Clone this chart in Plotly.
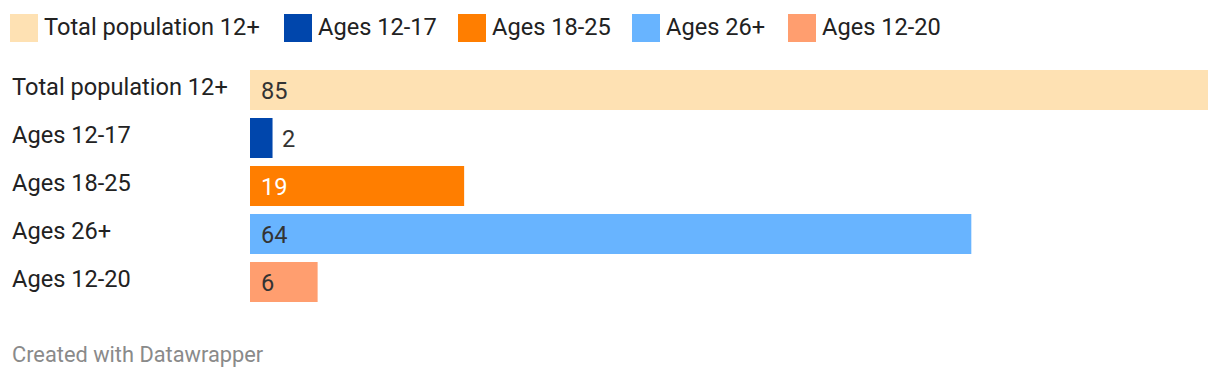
import plotly.graph_objects as go

categories = ["Total population 12+", "Ages 12-17", "Ages 18-25", "Ages 26+", "Ages 12-20"]
values = [85, 2, 19, 64, 6]
colors = ["#fee1b3", "#0046ac", "#ff7e00", "#68b4ff", "#ff9e6f"]
value_text_colors = ["#333333", "#333333", "#ffffff", "#333333", "#333333"]

# page body has an 8px default margin; target coordinates below are window pixels
OFF = 8
W, H = 1220 - OFF, 378 - OFF
ML, MR, MT, MB = 250 - OFF, 12, 66 - OFF, 72
PW, PH = W - ML - MR, H - MT - MB

def px_x(px):
    return (px - OFF - ML) / PW

def px_y(py):
    return (H - MB - (py - OFF)) / PH

FONT = "Roboto"
FS = 23.6

fig = go.Figure()
fig.add_trace(go.Bar(
    x=values, y=categories, orientation="h",
    marker=dict(color=colors, line=dict(width=0)),
    showlegend=False, hoverinfo="skip",
))

annotations = []
for c in categories:
    annotations.append(dict(
        x=px_x(10), xref="paper", y=c, yref="y", text=c, showarrow=False,
        xanchor="left", yanchor="middle", yshift=3,
        font=dict(family=FONT, size=FS, color="#222222"),
    ))

for c, v, tc in zip(categories, values, value_text_colors):
    bar_px = v / 85 * PW
    if bar_px > 40:
        annotations.append(dict(
            x=0, xref="x", y=c, yref="y", text=str(v), showarrow=False,
            xanchor="left", yanchor="middle", xshift=9, yshift=-1,
            font=dict(family=FONT, size=FS, color=tc),
        ))
    else:
        annotations.append(dict(
            x=v, xref="x", y=c, yref="y", text=str(v), showarrow=False,
            xanchor="left", yanchor="middle", xshift=7, yshift=-1,
            font=dict(family=FONT, size=FS, color="#333333"),
        ))

legend_sq_x = [10, 284, 458, 632, 788]
shapes = []
for c, col, sx in zip(categories, colors, legend_sq_x):
    shapes.append(dict(
        type="rect", xref="paper", yref="paper",
        x0=px_x(sx), x1=px_x(sx + 28), y0=px_y(42), y1=px_y(14),
        fillcolor=col, line=dict(width=0),
    ))
    annotations.append(dict(
        x=px_x(sx + 32), xref="paper", y=px_y(27), yref="paper", text=c,
        showarrow=False, xanchor="left", yanchor="middle",
        font=dict(family=FONT, size=FS, color="#222222"),
    ))

annotations.append(dict(
    x=px_x(10), xref="paper", y=px_y(354), yref="paper",
    text="Created with Datawrapper", showarrow=False,
    xanchor="left", yanchor="middle",
    font=dict(family=FONT, size=21.8, color="#8a8a8a"),
))

fig.update_layout(
    width=W, height=H,
    margin=dict(l=ML, r=MR, t=MT, b=MB),
    paper_bgcolor="white", plot_bgcolor="white",
    bargap=1/6,
    xaxis=dict(range=[0, 85], visible=False, fixedrange=True),
    yaxis=dict(categoryorder="array", categoryarray=categories,
               range=[4.5, -0.5], visible=False, fixedrange=True),
    annotations=annotations, shapes=shapes,
    font=dict(family=FONT),
)

fig.write_html("out.html", config={"displayModeBar": False})
